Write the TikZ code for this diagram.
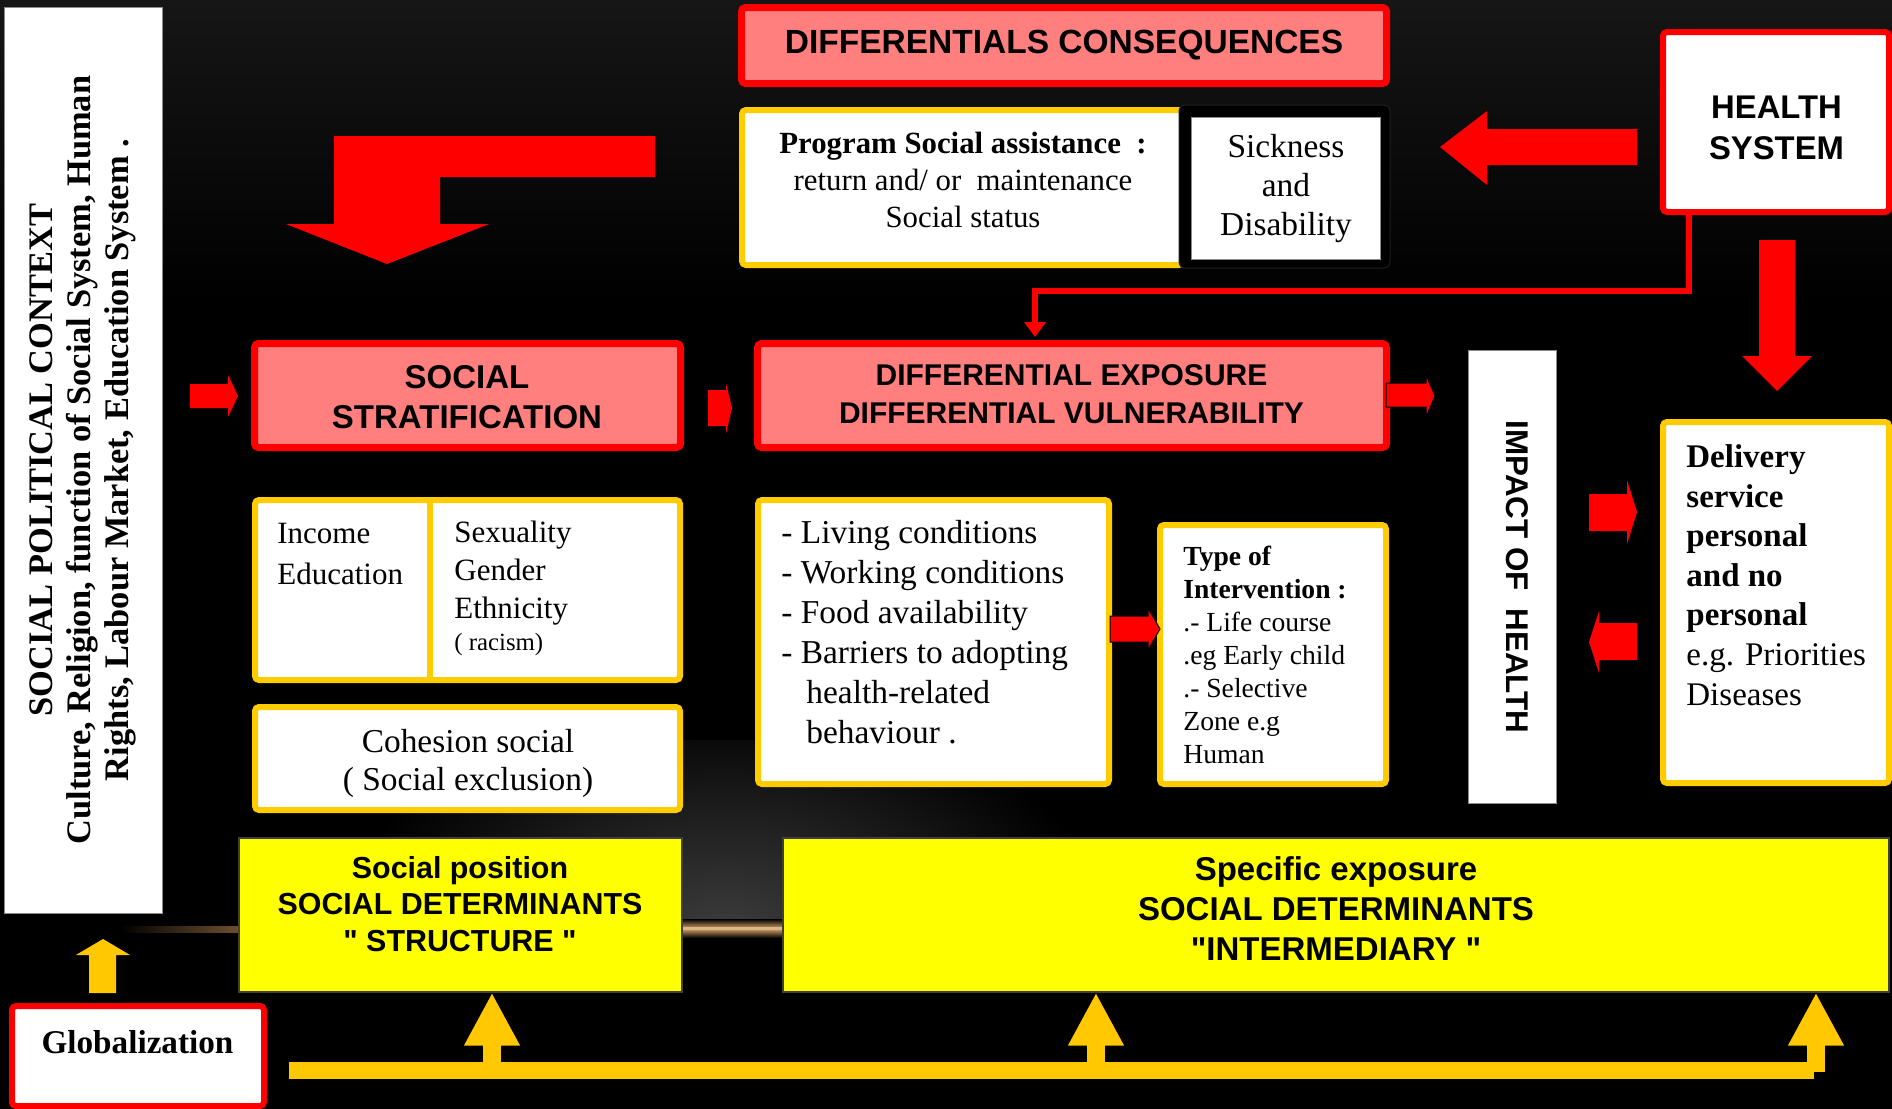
\documentclass[tikz,border=0pt]{standalone}
\usepackage{fontspec}
\setmainfont{Liberation Serif}
\newfontfamily\arialf{Liberation Sans}
\usetikzlibrary{arrows.meta}
\definecolor{salm}{RGB}{255,127,127}
\definecolor{goldc}{RGB}{255,204,0}
\definecolor{goldbar}{RGB}{255,200,0}
\definecolor{yel}{RGB}{255,255,0}
\definecolor{topgray}{RGB}{22,22,22}
\definecolor{glowc}{RGB}{60,60,60}
\definecolor{orangeglow}{RGB}{215,165,105}
\definecolor{orangefaint}{RGB}{110,80,45}
\begin{document}
\begin{tikzpicture}[x=0.5pt,y=-0.5pt,
  sbox/.style={draw=red, fill=salm, line width=3.5pt, rounded corners=2pt, inner sep=0pt},
  gbox/.style={draw=goldc, fill=white, line width=3pt, rounded corners=2pt, inner sep=0pt},
  wbox/.style={draw=black!45, fill=white, line width=0.5pt, inner sep=0pt},
  rbox/.style={draw=red, fill=white, line width=3pt, rounded corners=2pt, inner sep=0pt},
  ybox/.style={draw=black!75, fill=yel, line width=0.6pt, inner sep=0pt},
  txt/.style={inner sep=0pt, text=black},
  redblock/.style={fill=red},
  redblockk/.style={fill=red, draw=black, line width=0.5pt},
  thinred/.style={draw=red, line width=2.75pt, -{Triangle[width=10.5pt,length=7.5pt]}},
  goldline/.style={draw=goldbar, line width=8.5pt},
  goldarr/.style={draw=goldbar, line width=9pt, -{Triangle[width=26pt,length=26.5pt]}}
]
\useasboundingbox (0,0) rectangle (1892,1109);
% background
\fill[black] (0,0) rectangle (1892,1109);
\shade[top color=topgray, bottom color=black] (0,0) rectangle (1892,300);
\begin{scope}
  \clip (0,740) rectangle (1892,930);
  \shade[inner color=glowc, outer color=black] (725,930) ellipse [x radius=380, y radius=230];
\end{scope}
\shade[top color=black, bottom color=black, middle color=orangeglow] (682,919) rectangle (783,938);
\fill[orangeglow!80!white] (682,926.5) rectangle (783,929.5);
\shade[left color=black, right color=orangefaint] (120,926) rectangle (239,932);

% block arrows (red)
\fill[redblock] (655,136) -- (334,136) -- (334,224) -- (286,224) -- (387,264) -- (489,224) -- (440,224) -- (440,177) -- (655,177) -- cycle;
\fill[redblock] (1637,129) -- (1487,129) -- (1487,111) -- (1440,147) -- (1487,185) -- (1487,165) -- (1637,165) -- cycle;
\fill[redblock] (1759,240) -- (1795,240) -- (1795,356) -- (1812,356) -- (1777,391) -- (1742,356) -- (1759,356) -- cycle;
\fill[redblock] (190,384) -- (228,384) -- (228,375) -- (238,396) -- (228,417) -- (228,408) -- (190,408) -- cycle;
\fill[redblock] (708,390) -- (726,390) -- (726,383) -- (732,408) -- (726,434) -- (726,426) -- (708,426) -- cycle;
\fill[redblock] (1589,494) -- (1627,494) -- (1627,480) -- (1637,512) -- (1627,544) -- (1627,531) -- (1589,531) -- cycle;
\fill[redblock] (1637,623) -- (1599,623) -- (1599,611) -- (1589,642) -- (1599,673) -- (1599,660) -- (1637,660) -- cycle;
% gold small up arrow
\fill[goldbar] (89,993) -- (89,955) -- (76,955) -- (103,939) -- (130,955) -- (116,955) -- (116,993) -- cycle;

% boxes
\node[wbox, minimum width=79pt, minimum height=453pt] (ctx) at (83,460) {};
\node[sbox, minimum width=322.5pt, minimum height=38pt] (dc) at (1064,45.5) {};
\node[gbox, minimum width=220.5pt, minimum height=77.5pt] (psa) at (962.5,187.5) {};
\node[fill=black, draw=black!88, line width=0.5pt, rounded corners=3pt, minimum width=105.5pt, minimum height=81.5pt, inner sep=0pt] (sdb) at (1284.5,186.5) {};
\node[wbox, minimum width=94.5pt, minimum height=71pt] (sd) at (1285.5,188) {};
\node[rbox, minimum width=113pt, minimum height=90pt] (hs) at (1776,122) {};
\node[sbox, minimum width=213pt, minimum height=52pt] (ss) at (467.5,395.5) {};
\node[sbox, minimum width=314.5pt, minimum height=52pt] (dev) at (1072,395.5) {};
\node[gbox, minimum width=212.5pt, minimum height=90pt] (ie) at (467.5,590) {};
\coordinate (dv) at (430,0);
\draw[goldc, line width=3pt] (ie.north -| dv) -- (ie.south -| dv);
\node[gbox, minimum width=212.5pt, minimum height=51.5pt] (cs) at (467.5,758.5) {};
\node[gbox, minimum width=175.5pt, minimum height=142pt] (lc) at (933.5,642) {};
\node[gbox, minimum width=113pt, minimum height=129.5pt] (ti) at (1273,654.5) {};
\node[wbox, minimum width=44pt, minimum height=226.5pt] (ih) at (1512,576.5) {};
\node[gbox, minimum width=113pt, minimum height=180.5pt] (dl) at (1776,602.5) {};
\node[ybox, minimum width=221.5pt, minimum height=77pt] (sp) at (460.5,915) {};
\node[ybox, minimum width=553pt, minimum height=77pt] (se) at (1336,915) {};
\node[rbox, minimum width=126pt, minimum height=50pt] (gl) at (138,1056) {};

% outlined small red arrows over box borders
\filldraw[redblockk] (1386,383) -- (1426,383) -- (1426,375) -- (1435,396) -- (1426,417) -- (1426,407) -- (1386,407) -- cycle;
\filldraw[redblockk] (1110,616) -- (1148,616) -- (1148,608) -- (1160,629) -- (1148,650) -- (1148,642) -- (1110,642) -- cycle;

% texts (multi-line nodes: base anchor = last line's baseline)
\node[txt, rotate=90, align=center, font=\fontsize{17.2}{19}\selectfont\bfseries] (ctxt) at (83,460)
  {SOCIAL POLITICAL CONTEXT\\Culture, Religion, function of Social System, Human\\Rights, Labour Market, Education System .};
\node[txt, anchor=base, font=\fontsize{16.75}{20}\selectfont\arialf\bfseries] (dct) at (1064,53) {DIFFERENTIALS CONSEQUENCES};
\node[txt, anchor=base, align=center, font=\fontsize{15.4}{18.5}\selectfont] (psat) at (963,227)
  {\textbf{Program Social assistance\ \ :}\\return and/ or\ \ maintenance\\Social status};
\node[txt, anchor=base, align=center, font=\fontsize{16.7}{19.5}\selectfont] (sdt) at (1286,235) {Sickness\\and\\Disability};
\node[txt, anchor=base, align=center, font=\fontsize{16.4}{20.5}\selectfont\arialf\bfseries] (hst) at (1776.5,159) {HEALTH\\SYSTEM};
\node[txt, anchor=base, align=center, font=\fontsize{16.5}{20}\selectfont\arialf\bfseries] (sst) at (467,428) {SOCIAL\\STRATIFICATION};
\node[txt, anchor=base, align=center, font=\fontsize{15}{19}\selectfont\arialf\bfseries] (devt) at (1071.5,423) {DIFFERENTIAL EXPOSURE\\DIFFERENTIAL VULNERABILITY};
\node[txt, anchor=base west, align=left, font=\fontsize{15.5}{20.5}\selectfont] (iet1) at (277,584) {Income\\Education};
\node[txt, anchor=base west, align=left, font=\fontsize{15.5}{19}\selectfont] (iet2) at (454,650)
  {Sexuality\\Gender\\Ethnicity\\[-3pt]{\fontsize{12.4}{14}\selectfont ( racism)}};
\node[txt, anchor=base, align=center, font=\fontsize{16.7}{19}\selectfont] (cst) at (468,790) {Cohesion social\\( Social exclusion)};
\node[txt, anchor=base west, align=left, font=\fontsize{16.7}{20}\selectfont] (lct) at (781,743)
  {- Living conditions\\- Working conditions\\- Food availability\\- Barriers to adopting\\\hspace*{12.5pt}health-related\\\hspace*{12.5pt}behaviour .};
\node[txt, anchor=base west, align=left, font=\fontsize{13.8}{16.5}\selectfont] (tit) at (1183,763)
  {\textbf{Type of}\\\textbf{Intervention :}\\.- Life course\\.eg Early child\\.- Selective\\Zone e.g\\Human};
\node[txt, rotate=-90, font=\fontsize{15.7}{19}\selectfont\arialf\bfseries] (iht) at (1517,577) {IMPACT OF\ \ HEALTH};
\node[txt, anchor=base west, align=left, font=\fontsize{16.5}{19.8}\selectfont] (dlt) at (1686,705)
  {\textbf{Delivery}\\\textbf{service}\\\textbf{personal}\\\textbf{and no}\\\textbf{personal}\\e.g. Priorities\\Diseases};
\node[txt, anchor=base, align=center, font=\fontsize{15.2}{18.25}\selectfont\arialf\bfseries] (spt) at (460,951)
  {Social position\\SOCIAL DETERMINANTS\\" STRUCTURE "};
\node[txt, anchor=base, align=center, font=\fontsize{16.5}{20}\selectfont\arialf\bfseries] (set) at (1336,960)
  {Specific exposure\\SOCIAL DETERMINANTS\\"INTERMEDIARY "};
\node[txt, anchor=base, font=\fontsize{16.6}{20}\selectfont\bfseries] (glt) at (137.5,1053) {Globalization};

% connectors
\coordinate (k1) at (1689,291);
\coordinate (k2) at (1035,291);
\draw[thinred, shorten >=1.5pt] (hs.south -| k1) -- (k1) -- (k2) -- (dev.north -| k2);

\coordinate (g0) at (289,1070.5);
\coordinate (g1) at (1814,1070.5);
\coordinate (gr) at (1816,1072);
\coordinate (gm) at (1096,1070.5);
\coordinate (gL) at (492,1070.5);
\draw[goldline] (g0) -- (g1);
\draw[goldarr] (gr) -- (gr |- se.south);
\draw[goldarr] (gm) -- (gm |- se.south);
\draw[goldarr] (gL) -- (gL |- sp.south);
\end{tikzpicture}
\end{document}
